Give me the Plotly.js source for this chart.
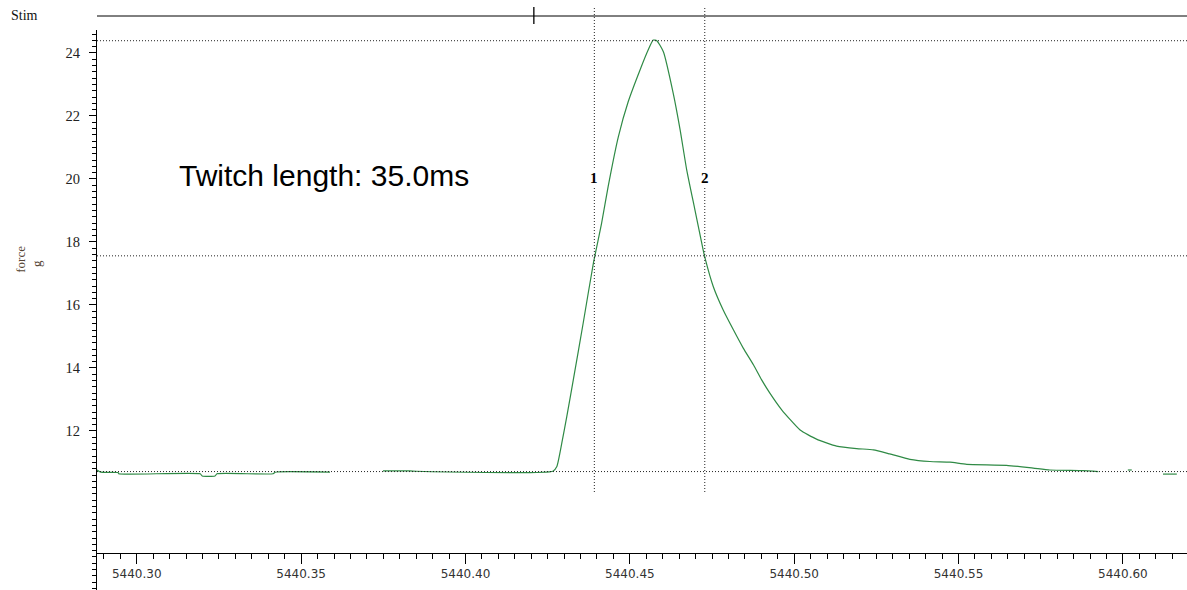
<!DOCTYPE html>
<html>
<head>
<meta charset="utf-8">
<script src="https://cdn.plot.ly/plotly-3.0.1.min.js"></script>
<style>
html,body{margin:0;padding:0;background:#fff;}
#chart{width:1187px;height:590px;}
</style>
</head>
<body>
<div id="chart"></div>
<script>
// Force trace (time in s, force in g); null = gap where trace is hidden behind baseline
var timeS = [5440.2879, 5440.2891, 5440.2943, 5440.2945, 5440.3193, 5440.3199, 5440.3238, 5440.3244, 5440.3415, 5440.3421, 5440.3588, 5440.3600,
  5440.3749, 5440.3831, 5440.3850, 5440.4266, 5440.4278, 5440.4293, 5440.4308, 5440.4328, 5440.4358, 5440.4389, 5440.4414, 5440.4434,
  5440.4465, 5440.4495, 5440.4531, 5440.4556, 5440.4571, 5440.4582, 5440.4602, 5440.4632, 5440.4653, 5440.4673, 5440.4698, 5440.4723,
  5440.4729, 5440.4754, 5440.4784, 5440.4815, 5440.4845, 5440.4876, 5440.4901, 5440.4926, 5440.4962, 5440.5018, 5440.5068, 5440.5129,
  5440.5190, 5440.5241, 5440.5291, 5440.5352, 5440.5413, 5440.5474, 5440.5525, 5440.5646, 5440.5727, 5440.5778, 5440.5879, 5440.5925,
  5440.5950, 5440.6015, 5440.6027, 5440.6050, 5440.6122, 5440.6164];
var forceG = [10.76, 10.69, 10.68, 10.64, 10.64, 10.57, 10.57, 10.64, 10.64, 10.69, 10.69, null,
  10.73, 10.73, 10.72, 10.72, 10.87, 11.61, 12.45, 13.62, 15.42, 17.32, 18.59, 19.76,
  21.34, 22.45, 23.46, 24.10, 24.41, 24.39, 24.04, 22.72, 21.56, 20.29, 19.02, 17.75,
  17.48, 16.58, 15.84, 15.21, 14.63, 14.10, 13.62, 13.20, 12.67, 12.03, 11.74, 11.52,
  11.44, 11.40, 11.27, 11.10, 11.03, 11.01, 10.94, 10.91, 10.82, 10.76, 10.74, 10.71,
  null, 10.76, 10.76, null, 10.63, 10.63];

// Cursors and reference levels
var cursorTimes = [5440.4392, 5440.4728];
var cursorLabels = ["1", "2"];
var levelForces = [24.39, 17.56, 10.71];
var stimTimes = [5440.4208];
var yTickVals = [12, 14, 16, 18, 20, 22, 24];
var annotationText = "Twitch length: 35.0ms";

var dotLine = {color: '#222', width: 1, dash: '1px,2px'};
var shapes = [];
levelForces.forEach(function (f) {
  shapes.push({type: 'line', xref: 'paper', yref: 'y', x0: 0, x1: 1, y0: f, y1: f,
    line: dotLine, layer: 'above'});
});
cursorTimes.forEach(function (t) {
  shapes.push({type: 'line', xref: 'x', yref: 'paper', x0: t, x1: t, y0: 0.175, y1: 1.041,
    line: dotLine, layer: 'above'});
});
// Stim channel baseline
shapes.push({type: 'line', xref: 'paper', yref: 'paper', x0: 0, x1: 1, y0: 1.025, y1: 1.025,
  line: {color: '#000', width: 1}});
stimTimes.forEach(function (t) {
  shapes.push({type: 'line', xref: 'x', yref: 'paper', x0: t, x1: t, y0: 1.0105, y1: 1.041,
    line: {color: '#000', width: 1.3}});
});

var annotations = [
  {xref: 'paper', yref: 'paper', x: -0.081, y: 1.026, xanchor: 'left', yanchor: 'middle', showarrow: false,
    text: 'Stim', font: {family: 'Liberation Serif, serif', size: 14, color: '#111'}},
  {xref: 'paper', yref: 'paper', x: -0.0705, y: 0.59, xanchor: 'center', yanchor: 'middle', showarrow: false,
    text: 'force', textangle: -90, font: {family: 'Liberation Serif, serif', size: 13, color: '#554433'}},
  {xref: 'paper', yref: 'paper', x: -0.0555, y: 0.583, xanchor: 'center', yanchor: 'middle', showarrow: false,
    text: 'g', textangle: -90, font: {family: 'Liberation Serif, serif', size: 13, color: '#554433'}},
  {xref: 'paper', yref: 'y', x: 0.073, y: 20.1, xanchor: 'left', yanchor: 'middle', showarrow: false,
    text: annotationText, font: {family: 'Liberation Sans, Arial, sans-serif', size: 30, color: '#000'}}
];
cursorTimes.forEach(function (t, i) {
  annotations.push({xref: 'x', yref: 'y', x: t, y: 20.03, xanchor: 'center', yanchor: 'middle', showarrow: false,
    text: '<b>' + cursorLabels[i] + '</b>', bgcolor: '#fff',
    font: {family: 'Liberation Serif, serif', size: 15, color: '#000'}});
});

var trace = {
  x: timeS, y: forceG, type: 'scatter', mode: 'lines', connectgaps: false,
  line: {color: '#2f8a45', width: 1.2, shape: 'spline', smoothing: 0.5}, hoverinfo: 'skip'
};

var layout = {
  width: 1187, height: 590,
  margin: {l: 97, r: 0, t: 30, b: 0, pad: 0},
  paper_bgcolor: '#fff', plot_bgcolor: '#fff',
  showlegend: false,
  xaxis: {
    range: [5440.2879, 5440.6195], anchor: 'free', position: 0.0661,
    showgrid: false, zeroline: false, showline: true, linecolor: '#000', linewidth: 1,
    tickmode: 'linear', tick0: 5440.30, dtick: 0.05, tickformat: '.2f',
    ticks: 'outside', ticklen: 10, tickcolor: '#000', tickwidth: 1,
    tickfont: {family: 'DejaVu Sans, sans-serif', size: 12, color: '#333'},
    minor: {tickmode: 'linear', tick0: 5440.30, dtick: 0.005, ticks: 'outside', ticklen: 5, tickcolor: '#000', tickwidth: 1, showgrid: false}
  },
  yaxis: {
    range: [6.95, 24.73],
    showgrid: false, zeroline: false, showline: true, linecolor: '#000', linewidth: 1,
    tickmode: 'array', tickvals: yTickVals, ticktext: yTickVals.map(String),
    ticks: 'outside', ticklen: 7, tickcolor: '#000', tickwidth: 1, ticklabelstandoff: 6,
    tickfont: {family: 'Liberation Serif, serif', size: 14.5, color: '#222'},
    minor: {tickmode: 'linear', tick0: 0, dtick: 0.2, ticks: 'outside', ticklen: 4, tickcolor: '#000', tickwidth: 1, showgrid: false}
  },
  shapes: shapes,
  annotations: annotations
};

Plotly.newPlot('chart', [trace], layout, {displayModeBar: false, staticPlot: true});
</script>
</body>
</html>
